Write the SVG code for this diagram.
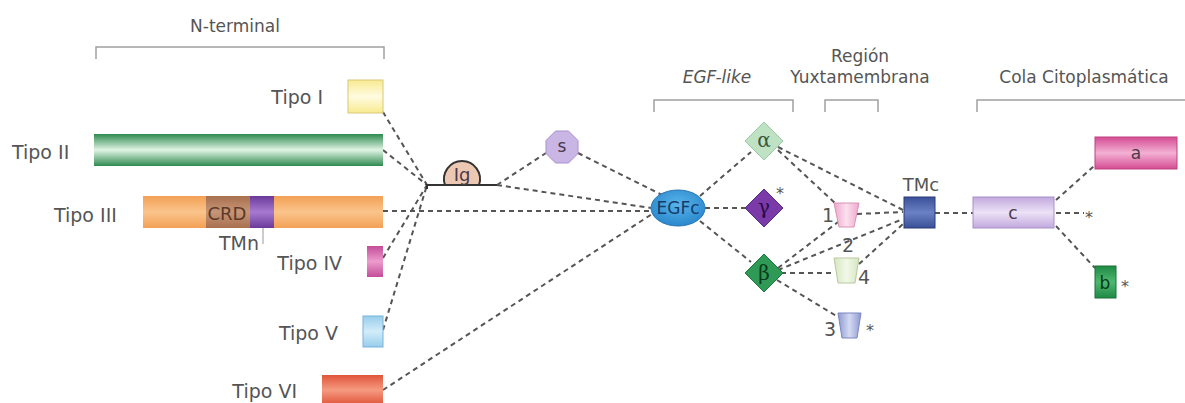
<svg xmlns="http://www.w3.org/2000/svg" width="1185" height="403" viewBox="0 0 1185 403">
<style>
  .lbl{font-family:"DejaVu Sans",Verdana,sans-serif;font-size:17px;fill:#555}
  .tipo{font-family:"DejaVu Sans",Verdana,sans-serif;font-size:19px;fill:#555}
  .in{font-family:"DejaVu Sans",Verdana,sans-serif;font-size:17px;fill:#4a3a4a;text-anchor:middle}
  .gr{font-family:"DejaVu Serif","Liberation Serif",serif;font-size:20px;text-anchor:middle}
  .star{font-family:"DejaVu Sans",sans-serif;font-size:16px;fill:#555}
  .num{font-family:"DejaVu Sans",sans-serif;font-size:19px;fill:#555}
  .br{fill:none;stroke:#a0a0a0;stroke-width:1.5}
  .dash{fill:none;stroke:#555;stroke-width:2;stroke-dasharray:5 4}
</style>
<defs>
  <linearGradient id="gI" x1="0" y1="0" x2="0" y2="1"><stop offset="0" stop-color="#f8ea90"/><stop offset="0.5" stop-color="#fffbe0"/><stop offset="1" stop-color="#f8ea90"/></linearGradient>
  <linearGradient id="gII" x1="0" y1="0" x2="0" y2="1"><stop offset="0" stop-color="#2f8a50"/><stop offset="0.5" stop-color="#e0f4e4"/><stop offset="1" stop-color="#2f8a50"/></linearGradient>
  <linearGradient id="gIII" x1="0" y1="0" x2="0" y2="1"><stop offset="0" stop-color="#f3a055"/><stop offset="0.5" stop-color="#fbc48c"/><stop offset="1" stop-color="#f3a055"/></linearGradient>
  <linearGradient id="gCRD" x1="0" y1="0" x2="0" y2="1"><stop offset="0" stop-color="#a87050"/><stop offset="0.5" stop-color="#c79676"/><stop offset="1" stop-color="#a87050"/></linearGradient>
  <linearGradient id="gTMn" x1="0" y1="0" x2="0" y2="1"><stop offset="0" stop-color="#6a3a9a"/><stop offset="0.5" stop-color="#a77ad0"/><stop offset="1" stop-color="#6a3a9a"/></linearGradient>
  <linearGradient id="gIV" x1="0" y1="0" x2="0" y2="1"><stop offset="0" stop-color="#c44c98"/><stop offset="0.5" stop-color="#ec9ccc"/><stop offset="1" stop-color="#c44c98"/></linearGradient>
  <linearGradient id="gV" x1="0" y1="0" x2="0" y2="1"><stop offset="0" stop-color="#98cdec"/><stop offset="0.5" stop-color="#d2ecf8"/><stop offset="1" stop-color="#98cdec"/></linearGradient>
  <linearGradient id="gVI" x1="0" y1="0" x2="0" y2="1"><stop offset="0" stop-color="#e0553a"/><stop offset="0.5" stop-color="#f59a80"/><stop offset="1" stop-color="#e0553a"/></linearGradient>
  <linearGradient id="gA" x1="0" y1="0" x2="0" y2="1"><stop offset="0" stop-color="#d44c92"/><stop offset="0.5" stop-color="#f3b0d4"/><stop offset="1" stop-color="#d44c92"/></linearGradient>
  <linearGradient id="gB" x1="0" y1="0" x2="0" y2="1"><stop offset="0" stop-color="#1f8a45"/><stop offset="0.5" stop-color="#4fb870"/><stop offset="1" stop-color="#1f8a45"/></linearGradient>
  <linearGradient id="gC" x1="0" y1="0" x2="0" y2="1"><stop offset="0" stop-color="#c2a8de"/><stop offset="0.5" stop-color="#ece2f6"/><stop offset="1" stop-color="#c2a8de"/></linearGradient>
  <linearGradient id="gTMc" x1="0" y1="0" x2="0" y2="1"><stop offset="0" stop-color="#3a4f98"/><stop offset="0.5" stop-color="#6a82c4"/><stop offset="1" stop-color="#3a4f98"/></linearGradient>
  <linearGradient id="gT1" x1="0" y1="0" x2="1" y2="0"><stop offset="0" stop-color="#eea8cc"/><stop offset="0.5" stop-color="#fbe0ee"/><stop offset="1" stop-color="#eea8cc"/></linearGradient>
  <linearGradient id="gT4" x1="0" y1="0" x2="1" y2="0"><stop offset="0" stop-color="#d6e6c0"/><stop offset="0.5" stop-color="#f2f8e8"/><stop offset="1" stop-color="#d6e6c0"/></linearGradient>
  <linearGradient id="gT3" x1="0" y1="0" x2="1" y2="0"><stop offset="0" stop-color="#8e9ad0"/><stop offset="0.5" stop-color="#d4daf2"/><stop offset="1" stop-color="#8e9ad0"/></linearGradient>
  <radialGradient id="gEGF" cx="0.5" cy="0.4" r="0.6"><stop offset="0" stop-color="#5ab4ea"/><stop offset="1" stop-color="#2a88cc"/></radialGradient>
</defs>

<!-- Section brackets and titles -->
<g id="sections">
  <path class="br" d="M96,59 V47 H384 V59"/>
  <text class="lbl" x="235" y="32" text-anchor="middle">N-terminal</text>
  <path class="br" d="M654,112 V100 H793 V112"/>
  <text class="lbl" x="717" y="83" text-anchor="middle" font-style="italic">EGF-like</text>
  <path class="br" d="M825,112 V100 H878 V112"/>
  <text class="lbl" x="860" y="62" text-anchor="middle">Región</text>
  <text class="lbl" x="860" y="83" text-anchor="middle">Yuxtamembrana</text>
  <path class="br" d="M977,112 V100 H1186"/>
  <text class="lbl" x="1084" y="83" text-anchor="middle">Cola Citoplasmática</text>
</g>

<!-- Connectors -->
<g id="connectors">
  <path class="dash" d="M383,112 L427,185"/>
  <path class="dash" d="M383,150 L427,185"/>
  <path class="dash" d="M383,258 L427,185"/>
  <path class="dash" d="M383,330 L427,185"/>
  <path class="dash" d="M383,211 L651,211"/>
  <path class="dash" d="M383,390 L652,214"/>
  <path class="dash" d="M497,185 L546,153"/>
  <path class="dash" d="M497,185 L651,208"/>
  <path class="dash" d="M578,153 L664,196"/>
  <path class="dash" d="M700,196 L751,152"/>
  <path class="dash" d="M705,208 L746,208"/>
  <path class="dash" d="M700,221 L751,262"/>
  <path class="dash" d="M778,150 L836,204"/>
  <path class="dash" d="M778,147 L903,210"/>
  <path class="dash" d="M857,214 L903,212"/>
  <path class="dash" d="M778,268 L838,222"/>
  <path class="dash" d="M778,270 L903,219"/>
  <path class="dash" d="M781,273 L835,273"/>
  <path class="dash" d="M859,264 L903,224"/>
  <path class="dash" d="M777,280 L838,317"/>
  <path class="dash" d="M935,213 L973,213"/>
  <path class="dash" d="M1056,200 L1094,166"/>
  <path class="dash" d="M1056,213 L1084,213"/>
  <path class="dash" d="M1056,226 L1095,268"/>
</g>

<!-- N-terminal types -->
<g id="tipo1">
  <rect x="348" y="80" width="35" height="33" fill="url(#gI)" stroke="#d6c878" stroke-width="1"/>
  <text class="tipo" x="323" y="104" text-anchor="end">Tipo I</text>
</g>
<g id="tipo2">
  <rect x="94" y="134" width="289" height="32" fill="url(#gII)"/>
  <text class="tipo" x="12" y="159">Tipo II</text>
</g>
<g id="tipo3">
  <rect x="143" y="196" width="240" height="32" fill="url(#gIII)"/>
  <rect x="206" y="196" width="44" height="32" fill="url(#gCRD)"/>
  <rect x="250" y="196" width="24" height="32" fill="url(#gTMn)"/>
  <text class="in" x="227" y="220" style="fill:#5a3a2a;font-size:18px">CRD</text>
  <text class="tipo" x="54" y="222">Tipo III</text>
  <line x1="263" y1="228" x2="263" y2="244" stroke="#999" stroke-width="1"/>
  <text class="tipo" x="239" y="250" text-anchor="middle">TMn</text>
</g>
<g id="tipo4">
  <rect x="367" y="246" width="16" height="31" fill="url(#gIV)"/>
  <text class="tipo" x="342" y="270" text-anchor="end">Tipo IV</text>
</g>
<g id="tipo5">
  <rect x="363" y="316" width="20" height="31" fill="url(#gV)" stroke="#78b4dc" stroke-width="1"/>
  <text class="tipo" x="338" y="340" text-anchor="end">Tipo V</text>
</g>
<g id="tipo6">
  <rect x="322" y="375" width="61" height="30" fill="url(#gVI)"/>
  <text class="tipo" x="297" y="398" text-anchor="end">Tipo VI</text>
</g>

<!-- Ig -->
<g id="ig">
  <path d="M427,189 V185 H445 M479,185 H497" fill="none" stroke="#333" stroke-width="2"/>
  <path d="M445,185 A18,18 0 1 1 479,185 Z" fill="#ecc8b2" stroke="#333" stroke-width="2"/>
  <text class="in" x="462" y="181" style="font-size:18px">Ig</text>
</g>

<!-- s -->
<g id="s">
  <polygon points="578,153.5 568.5,163 555.5,163 546,153.5 546,140.5 555.5,131 568.5,131 578,140.5" fill="#c9b6e4" stroke="#a890cc" stroke-width="1"/>
  <text class="in" x="562" y="152">s</text>
</g>

<!-- EGFc -->
<g id="egfc">
  <ellipse cx="678" cy="208" rx="27" ry="18" fill="url(#gEGF)" stroke="#2a78b8" stroke-width="1"/>
  <text class="in" x="678" y="214" style="fill:#143c6a">EGFc</text>
</g>

<!-- EGF-like -->
<g id="alpha">
  <polygon points="764,122 783,141 764,160 745,141" fill="#bfe2c4" stroke="#9acaa2" stroke-width="1"/>
  <text class="gr" x="764" y="147" fill="#3a5a40">α</text>
</g>
<g id="gamma">
  <polygon points="764,189 783,208 764,227 745,208" fill="#7a3aa8" stroke="#5a2a88" stroke-width="1"/>
  <text class="gr" x="764" y="214" fill="#2a0a4a">γ</text>
  <text class="star" x="776" y="199">*</text>
</g>
<g id="beta">
  <polygon points="764,254 783,273 764,292 745,273" fill="#2f9a55" stroke="#1f7a40" stroke-width="1"/>
  <text class="gr" x="764" y="280" fill="#0a3a1a">β</text>
</g>

<!-- Juxtamembrane -->
<g id="jm1">
  <polygon points="834,203 859,203 854,227 839,227" fill="url(#gT1)" stroke="#d894b8" stroke-width="1"/>
  <text class="num" x="822" y="222">1</text>
</g>
<text class="num" x="842" y="252" id="jm2">2</text>
<g id="jm4">
  <polygon points="834,258 859,258 855,283 838,283" fill="url(#gT4)" stroke="#b8c8a0" stroke-width="1"/>
  <text class="num" x="858" y="284">4</text>
</g>
<g id="jm3">
  <polygon points="838,313 861,313 857,338 842,338" fill="url(#gT3)" stroke="#7a86c0" stroke-width="1"/>
  <text class="num" x="824" y="336">3</text>
  <text class="star" x="866" y="336">*</text>
</g>

<!-- TMc -->
<g id="tmc">
  <rect x="904" y="197" width="31" height="31" fill="url(#gTMc)" stroke="#2a3a78" stroke-width="1"/>
  <text class="lbl" x="921" y="191" text-anchor="middle" style="font-size:18px">TMc</text>
</g>

<!-- Cytoplasmic tail -->
<g id="c">
  <rect x="973" y="197" width="81" height="31" fill="url(#gC)" stroke="#a890c8" stroke-width="1"/>
  <text class="in" x="1013" y="219">c</text>
  <text class="star" x="1085" y="223">*</text>
</g>
<g id="a">
  <rect x="1095" y="137" width="82" height="32" fill="url(#gA)" stroke="#c0407e" stroke-width="1"/>
  <text class="in" x="1136" y="159">a</text>
</g>
<g id="b">
  <rect x="1095" y="266" width="21" height="32" fill="url(#gB)" stroke="#1a7038" stroke-width="1"/>
  <text class="in" x="1105" y="289" style="fill:#0a3a1a">b</text>
  <text class="star" x="1121" y="292">*</text>
</g>
</svg>
